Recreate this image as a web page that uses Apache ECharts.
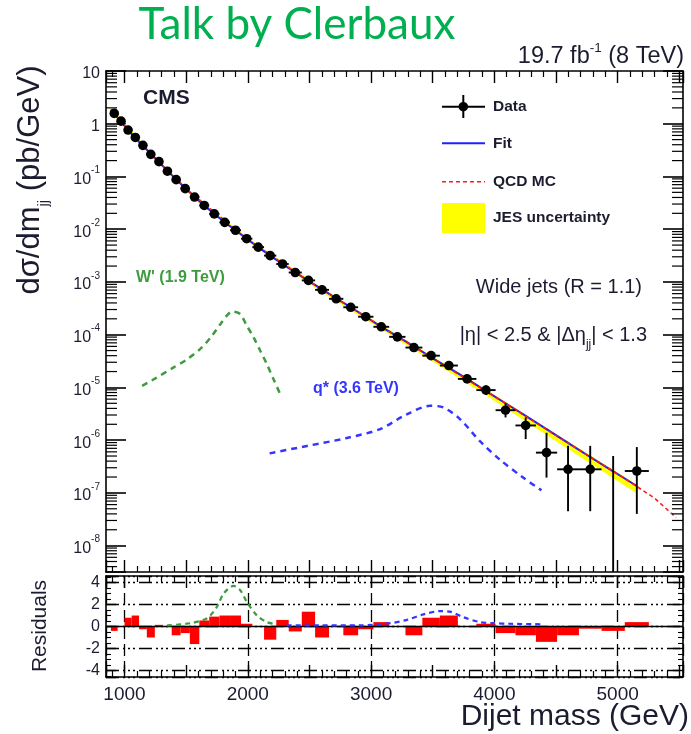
<!DOCTYPE html>
<html>
<head>
<meta charset="utf-8">
<script src="https://cdn.jsdelivr.net/npm/echarts@6/dist/echarts.min.js"></script>
<style>
  html, body { margin: 0; padding: 0; background: #ffffff; }
  #chart { width: 691px; height: 734px; }
</style>
</head>
<body>
<div id="chart"></div>
<script>
// Dijet mass bin edges (GeV)
const binEdges = [890, 944, 1000, 1058, 1118, 1181, 1246, 1313, 1383, 1455, 1530, 1607, 1687, 1770,
  1856, 1945, 2037, 2132, 2231, 2332, 2438, 2546, 2659, 2775, 2895, 3019, 3147, 3279, 3416, 3558,
  3704, 3854, 4010, 4171, 4337, 4509, 4686, 4869, 5058, 5253];

// Measured dσ/dm_jj per bin (pb/GeV) and its uncertainties
const xsec = [1.57, 1.12, 0.759, 0.550, 0.389, 0.263, 0.191, 0.126, 0.0871, 0.0589, 0.0407, 0.0282,
  0.0195, 0.0135, 0.00955, 0.00661, 0.00457, 0.00316, 0.00219, 0.00151, 0.00107, 7.08e-4, 4.79e-4,
  3.31e-4, 2.19e-4, 1.41e-4, 9.1e-5, 5.7e-5, 4.0e-5, 2.6e-5, 1.45e-5, 8.9e-6, 3.7e-6, 1.9e-6,
  5.8e-7, 2.8e-7, 2.8e-7, 0, 2.6e-7];
const xsecErrUp = [0, 0, 0, 0, 0, 0, 0, 0, 0, 0, 0, 0, 0, 0, 0, 0, 0, 0, 0, 0, 0, 0, 0, 0, 0, 0,
  5.9e-6, 4.7e-6, 3.8e-6, 3.1e-6, 2.3e-6, 2.0e-6, 1.2e-6, 0.8e-6, 8.0e-7, 5.0e-7, 5.0e-7, 5.0e-7, 4.8e-7];
const xsecErrDown = [0, 0, 0, 0, 0, 0, 0, 0, 0, 0, 0, 0, 0, 0, 0, 0, 0, 0, 0, 0, 0, 0, 0, 0, 0, 0,
  5.9e-6, 4.7e-6, 3.8e-6, 3.0e-6, 2.2e-6, 1.7e-6, 1.0e-6, 0.85e-6, 3.85e-7, 2.35e-7, 2.35e-7, 0, 2.2e-7];

// Fit function
const fitMass = [890, 917, 972, 1029, 1088, 1150, 1214, 1280, 1348, 1419, 1493, 1569, 1647, 1729,
  1813, 1901, 1991, 2085, 2182, 2282, 2385, 2492, 2603, 2717, 2835, 2957, 3083, 3213, 3347, 3487,
  3631, 3779, 3932, 4090, 4254, 4423, 4597, 4777, 4963, 5155];
const fitValues = [1.86, 1.55, 1.10, 0.759, 0.537, 0.380, 0.269, 0.186, 0.129, 0.0871, 0.0603, 0.0407,
  0.0282, 0.0195, 0.0135, 0.00955, 0.00661, 0.00457, 0.00316, 0.00219, 0.00151, 0.00105, 7.24e-4,
  4.90e-4, 3.31e-4, 2.19e-4, 1.41e-4, 9.33e-5, 6.03e-5, 3.72e-5, 2.34e-5, 1.45e-5, 8.51e-6, 5.01e-6,
  2.88e-6, 1.62e-6, 8.91e-7, 4.79e-7, 2.57e-7, 1.35e-7];

// QCD MC prediction
const qcdMass = [890, 1000, 1200, 1500, 2000, 2500, 3000, 3500, 4000, 4500, 5000, 5300, 5474];
const qcdValues = [1.86, 0.912, 0.288, 0.0582, 6.38e-3, 1.02e-3, 1.88e-4, 3.55e-5, 6.76e-6, 1.23e-6,
  2.29e-7, 7.94e-8, 3.39e-8];

// JES uncertainty band
const jesMass = [890, 1200, 1600, 2000, 2600, 3200, 3900, 4500, 5155];
const jesLow = [1.70, 0.269, 0.0327, 5.96e-3, 6.53e-4, 8.71e-5, 8.13e-6, 9.77e-7, 1.0e-7];
const jesHigh = [1.95, 0.302, 0.0367, 6.68e-3, 7.50e-4, 1.02e-4, 1.0e-5, 1.29e-6, 1.41e-7];

// Signal shapes
const wPrimeMass = [1143, 1250, 1399, 1500, 1615, 1700, 1777, 1830, 1872, 1939, 1990, 2047, 2100, 2155, 2210, 2269];
const wPrimeValues = [1.07e-5, 1.48e-5, 2.40e-5, 3.31e-5, 5.37e-5, 8.9e-5, 1.58e-4, 2.29e-4, 2.75e-4,
  2.45e-4, 1.51e-4, 8.91e-5, 5.01e-5, 2.75e-5, 1.41e-5, 6.92e-6];
const qStarMass = [2177, 2480, 2804, 3073, 3290, 3478, 3586, 3721, 3883, 4045, 4233, 4382];
const qStarValues = [5.62e-7, 7.76e-7, 1.10e-6, 1.62e-6, 3.09e-6, 4.47e-6, 4.17e-6, 2.51e-6, 9.55e-7,
  4.27e-7, 1.95e-7, 1.12e-7];

// Residuals (data - fit) / uncertainty per bin
const residuals = [-0.4, 0, 0.8, 1.0, -0.25, -1.0, 0.15, 0, -0.8, -0.6, -1.6, 0.55, 0.9, 1.0, 1.0,
  0.25, 0, -1.2, 0.6, -0.45, 1.35, -1.0, 0, -0.8, -0.25, 0.4, 0, -0.8, 0.8, 1.0, 0, 0.25, -0.6, -0.8,
  -1.4, -0.8, -0.2, -0.4, 0.4];
const wPrimeResMass = [1346, 1534, 1670, 1750, 1804, 1885, 1939, 1994, 2075, 2155, 2236];
const wPrimeResValues = [0.1, 0.3, 0.75, 1.8, 3.0, 3.7, 3.3, 2.2, 1.0, 0.4, 0.2];
const qStarResMass = [2316, 2600, 2900, 3154, 3289, 3424, 3559, 3640, 3748, 3883, 3991, 4126, 4396];
const qStarResValues = [0.1, 0.1, 0.1, 0.3, 0.6, 1.1, 1.4, 1.35, 0.85, 0.4, 0.3, 0.25, 0.2];

// Axis ranges
const massRange = [850, 5530];
const xsecRange = [Math.pow(10, -8.5), 10];
const residualRange = [-4.6, 4.6];

const FONT = '"Liberation Sans", Arial, Helvetica, sans-serif';
const INK = '#1c1c30';

const chart = echarts.init(document.getElementById('chart'));

// minor ticks of the logarithmic axis (2..9 in each decade)
const logMinorTicks = [];
for (let e = -9; e <= 0; e++) {
  for (let k = 2; k <= 9; k++) logMinorTicks.push([massRange[0], k * Math.pow(10, e)]);
}

function decadeLabel(v) {
  const e = Math.log10(v);
  const r = Math.round(e);
  if (Math.abs(e - r) > 1e-6) return '';
  if (r === 1) return '{b|10}';
  if (r === 0) return '{b|1}';
  return '{b|10}{s|' + r + '}';
}

function massAxis(gridIndex, position, showLabels) {
  return {
    type: 'value', gridIndex: gridIndex, position: position,
    min: massRange[0], max: massRange[1], splitNumber: 9,
    axisLine: { show: true, onZero: false, lineStyle: { color: '#000', width: 1.6 } },
    axisTick: { show: true, inside: true, length: 12, lineStyle: { color: '#000', width: 1.4 } },
    minorTick: { show: true, splitNumber: 5, length: 6, lineStyle: { color: '#000', width: 1.2 } },
    axisLabel: {
      show: showLabels, margin: 8, fontFamily: FONT, fontSize: 19, color: INK,
      formatter: function (v) { return v % 1000 === 0 ? String(v) : ''; }
    },
    splitLine: { show: false }
  };
}

function xsecAxis(position, showLabels) {
  return {
    type: 'log', logBase: 10, gridIndex: 0, position: position,
    min: xsecRange[0], max: xsecRange[1],
    axisLine: { show: true, onZero: false, lineStyle: { color: '#000', width: 1.6 } },
    axisTick: { show: true, inside: true, length: 20, lineStyle: { color: '#000', width: 1.6 } },
    axisLabel: {
      show: showLabels, margin: 6, formatter: decadeLabel,
      rich: {
        b: { fontFamily: FONT, fontSize: 16, color: INK, lineHeight: 22, verticalAlign: 'bottom' },
        s: { fontFamily: FONT, fontSize: 10, color: INK, lineHeight: 14, verticalAlign: 'top' }
      }
    },
    splitLine: { show: false }
  };
}

function residualAxis(position, showLabels) {
  return {
    type: 'value', gridIndex: 1, position: position,
    min: residualRange[0], max: residualRange[1], splitNumber: 5,
    axisLine: { show: true, onZero: false, lineStyle: { color: '#000', width: 1.6 } },
    axisTick: { show: true, inside: true, length: 10, lineStyle: { color: '#000', width: 1.4 } },
    minorTick: { show: true, splitNumber: 4, length: 5, lineStyle: { color: '#000', width: 1.1 } },
    axisLabel: {
      show: showLabels, margin: 6, fontFamily: FONT, fontSize: 16, color: INK,
      formatter: function (v) { return Number.isInteger(v) ? String(v) : ''; }
    },
    splitLine: {
      show: showLabels,
      lineStyle: { color: '#000', width: 1.3, type: [13, 4, 2, 3, 2, 3, 2, 4] }
    }
  };
}

const splitAxis = {
  type: 'value', gridIndex: 1, position: 'bottom',
  min: massRange[0], max: massRange[1], splitNumber: 5,
  axisLine: { show: false }, axisTick: { show: false }, axisLabel: { show: false },
  splitLine: { show: true, lineStyle: { color: '#000', width: 1.3, type: [12, 5] } }
};

const binData = xsec.map(function (v, i) {
  const lo = binEdges[i], hi = binEdges[i + 1];
  return [(lo + hi) / 2, v, lo, hi, xsecErrDown[i], xsecErrUp[i]];
});
const residualData = residuals.map(function (r, i) { return [binEdges[i], r, binEdges[i + 1]]; });
const pairs = function (xs, ys) { return xs.map(function (x, i) { return [x, ys[i]]; }); };

const option = {
  animation: false,
  backgroundColor: '#ffffff',
  grid: [
    { left: 106, top: 71, width: 577, height: 501 },
    { left: 106, top: 576, width: 577, height: 101 }
  ],
  xAxis: [
    massAxis(0, 'bottom', false),
    massAxis(0, 'top', false),
    massAxis(1, 'bottom', true),
    massAxis(1, 'top', false),
    splitAxis
  ],
  yAxis: [
    xsecAxis('left', true),
    xsecAxis('right', false),
    residualAxis('left', true),
    residualAxis('right', false)
  ],
  series: [
    { // minor ticks of the log axes
      type: 'custom', xAxisIndex: 0, yAxisIndex: 0, silent: true, data: logMinorTicks, z: 5,
      renderItem: function (params, api) {
        const cs = params.coordSys;
        const p = api.coord([api.value(0), api.value(1)]);
        if (!(p[1] >= cs.y - 0.5 && p[1] <= cs.y + cs.height + 0.5)) return;
        const st = { stroke: '#000', lineWidth: 1.2 };
        return { type: 'group', children: [
          { type: 'line', shape: { x1: cs.x, y1: p[1], x2: cs.x + 11, y2: p[1] }, style: st },
          { type: 'line', shape: { x1: cs.x + cs.width, y1: p[1], x2: cs.x + cs.width - 11, y2: p[1] }, style: st }
        ] };
      }
    },
    { // JES uncertainty band
      type: 'custom', xAxisIndex: 0, yAxisIndex: 0, silent: true, data: [[jesMass[0], jesHigh[0]]], z: 1,
      renderItem: function (params, api) {
        const pts = [];
        for (let i = 0; i < jesMass.length; i++) pts.push(api.coord([jesMass[i], jesHigh[i]]));
        for (let i = jesMass.length - 1; i >= 0; i--) pts.push(api.coord([jesMass[i], jesLow[i]]));
        return { type: 'polygon', shape: { points: pts }, style: { fill: '#ffff00', stroke: '#ffff00', lineWidth: 1 } };
      }
    },
    {
      name: 'Fit', type: 'line', xAxisIndex: 0, yAxisIndex: 0, data: pairs(fitMass, fitValues),
      showSymbol: false, smooth: false, z: 2,
      lineStyle: { color: '#1f1fff', width: 2 }
    },
    {
      name: 'QCD MC', type: 'line', xAxisIndex: 0, yAxisIndex: 0, data: pairs(qcdMass, qcdValues),
      showSymbol: false, z: 3,
      lineStyle: { color: '#ff1a1a', width: 1.6, type: [4, 3] }
    },
    {
      name: "W' (1.9 TeV)", type: 'line', xAxisIndex: 0, yAxisIndex: 0, data: pairs(wPrimeMass, wPrimeValues),
      showSymbol: false, smooth: 0.3, z: 3,
      lineStyle: { color: '#3d9c3d', width: 2.5, type: [6, 5] }
    },
    {
      name: 'q* (3.6 TeV)', type: 'line', xAxisIndex: 0, yAxisIndex: 0, data: pairs(qStarMass, qStarValues),
      showSymbol: false, smooth: 0.3, z: 3,
      lineStyle: { color: '#3535ff', width: 2.5, type: [6, 5] }
    },
    { // data points with error bars
      type: 'custom', xAxisIndex: 0, yAxisIndex: 0, data: binData, z: 6,
      renderItem: function (params, api) {
        const cs = params.coordSys;
        const m = api.value(0), v = api.value(1), lo = api.value(2), hi = api.value(3);
        const ed = api.value(4), eu = api.value(5);
        const st = { stroke: '#000', lineWidth: 1.9 };
        const children = [];
        if (eu > 0 || ed > 0) {
          const yTop = api.coord([m, v + eu])[1];
          const yBot = (v - ed > 0) ? api.coord([m, v - ed])[1] : cs.y + cs.height;
          const x = api.coord([m, v + eu])[0];
          children.push({ type: 'line', shape: { x1: x, y1: yTop, x2: x, y2: yBot }, style: st });
        }
        if (v > 0) {
          const p = api.coord([m, v]);
          const pl = api.coord([lo, v]), ph = api.coord([hi, v]);
          children.push({ type: 'line', shape: { x1: pl[0], y1: p[1], x2: ph[0], y2: p[1] }, style: st });
          children.push({ type: 'circle', shape: { cx: p[0], cy: p[1], r: 4.8 }, style: { fill: '#000' } });
        }
        return { type: 'group', children: children };
      }
    },
    { // residual histogram
      type: 'custom', xAxisIndex: 2, yAxisIndex: 2, data: residualData, z: 2,
      renderItem: function (params, api) {
        const a = api.coord([api.value(0), 0]);
        const b = api.coord([api.value(2), api.value(1)]);
        return { type: 'rect', shape: { x: a[0], y: Math.min(a[1], b[1]), width: b[0] - a[0], height: Math.abs(b[1] - a[1]) },
          style: { fill: '#ff0000' } };
      }
    },
    {
      type: 'line', xAxisIndex: 2, yAxisIndex: 2, data: [[massRange[0], 0], [massRange[1], 0]],
      showSymbol: false, z: 4, lineStyle: { color: '#000', width: 1.6 }
    },
    {
      type: 'line', xAxisIndex: 2, yAxisIndex: 2, data: pairs(wPrimeResMass, wPrimeResValues),
      showSymbol: false, smooth: 0.3, z: 5, lineStyle: { color: '#3d9c3d', width: 2.2, type: [5, 4] }
    },
    {
      type: 'line', xAxisIndex: 2, yAxisIndex: 2, data: pairs(qStarResMass, qStarResValues),
      showSymbol: false, smooth: 0.3, z: 5, lineStyle: { color: '#3535ff', width: 2.2, type: [5, 4] }
    }
  ],
  graphic: [
    { type: 'text', x: 297, y: 25, style: { text: 'Talk by Clerbaux', font: '44px Lato, "Open Sans", sans-serif', fill: '#00b050',
      textAlign: 'center', align: 'center', textVerticalAlign: 'middle', verticalAlign: 'middle' } },
    { type: 'text', x: 684, y: 55, style: {
      text: '{a|19.7 fb}{s|-1}{a| (8 TeV)}', textAlign: 'right', align: 'right', textVerticalAlign: 'middle', verticalAlign: 'middle',
      rich: {
        a: { fontFamily: FONT, fontSize: 23.5, fill: INK, color: INK, lineHeight: 28, verticalAlign: 'bottom' },
        s: { fontFamily: FONT, fontSize: 13.5, fill: INK, color: INK, lineHeight: 17, verticalAlign: 'top' }
      } } },
    { type: 'text', x: 143, y: 98, style: { text: 'CMS', font: 'bold 21px ' + FONT, fill: INK,
      textVerticalAlign: 'middle', verticalAlign: 'middle' } },
    // legend
    { type: 'line', shape: { x1: 442, y1: 106.7, x2: 485, y2: 106.7 }, style: { stroke: '#000', lineWidth: 2 } },
    { type: 'line', shape: { x1: 463.3, y1: 95, x2: 463.3, y2: 118 }, style: { stroke: '#000', lineWidth: 2 } },
    { type: 'circle', shape: { cx: 463.3, cy: 106.7, r: 4.8 }, style: { fill: '#000' } },
    { type: 'line', shape: { x1: 442, y1: 143.3, x2: 485, y2: 143.3 }, style: { stroke: '#1f1fff', lineWidth: 2 } },
    { type: 'line', shape: { x1: 442, y1: 181.7, x2: 485, y2: 181.7 }, style: { stroke: '#ff1a1a', lineWidth: 1.6, lineDash: [4, 3] } },
    { type: 'rect', shape: { x: 442, y: 203, width: 43, height: 30 }, style: { fill: '#ffff00' } },
    { type: 'text', x: 493, y: 106.7, style: { text: 'Data', font: 'bold 15.5px ' + FONT, fill: INK, textVerticalAlign: 'middle', verticalAlign: 'middle' } },
    { type: 'text', x: 493, y: 143.3, style: { text: 'Fit', font: 'bold 15.5px ' + FONT, fill: INK, textVerticalAlign: 'middle', verticalAlign: 'middle' } },
    { type: 'text', x: 493, y: 181.7, style: { text: 'QCD MC', font: 'bold 15.5px ' + FONT, fill: INK, textVerticalAlign: 'middle', verticalAlign: 'middle' } },
    { type: 'text', x: 493, y: 217.5, style: { text: 'JES uncertainty', font: 'bold 15.5px ' + FONT, fill: INK, textVerticalAlign: 'middle', verticalAlign: 'middle' } },
    // selection labels
    { type: 'text', x: 642, y: 287, style: { text: 'Wide jets (R = 1.1)', font: '20px ' + FONT, fill: INK,
      textAlign: 'right', align: 'right', textVerticalAlign: 'middle', verticalAlign: 'middle' } },
    { type: 'text', x: 647, y: 338, style: {
      text: '{a||η| < 2.5 & |Δη}{j|jj}{a|| < 1.3}', textAlign: 'right', align: 'right', textVerticalAlign: 'middle', verticalAlign: 'middle',
      rich: {
        a: { fontFamily: FONT, fontSize: 20, fill: INK, color: INK, lineHeight: 26, verticalAlign: 'top' },
        j: { fontFamily: FONT, fontSize: 12, fill: INK, color: INK, lineHeight: 12, verticalAlign: 'bottom' }
      } } },
    // signal labels
    { type: 'text', x: 136, y: 278, style: { text: "W' (1.9 TeV)", font: 'bold 16px ' + FONT, fill: '#3d9c3d',
      textVerticalAlign: 'middle', verticalAlign: 'middle' } },
    { type: 'text', x: 313, y: 389, style: { text: 'q* (3.6 TeV)', font: 'bold 16px ' + FONT, fill: '#3535ff',
      textVerticalAlign: 'middle', verticalAlign: 'middle' } },
    // axis titles
    { type: 'text', x: 33, y: 180, rotation: Math.PI / 2, style: {
      text: '{a|dσ/dm}{j|jj}{a| (pb/GeV)}', textAlign: 'center', align: 'center', textVerticalAlign: 'middle', verticalAlign: 'middle',
      rich: {
        a: { fontFamily: FONT, fontSize: 31, fill: INK, color: INK, lineHeight: 36, verticalAlign: 'top' },
        j: { fontFamily: FONT, fontSize: 15, fill: INK, color: INK, lineHeight: 15, verticalAlign: 'bottom' }
      } } },
    { type: 'text', x: 40, y: 626, rotation: Math.PI / 2, style: { text: 'Residuals', font: '21px ' + FONT, fill: INK,
      textAlign: 'center', align: 'center', textVerticalAlign: 'middle', verticalAlign: 'middle' } },
    { type: 'text', x: 689, y: 717, style: { text: 'Dijet mass (GeV)', font: '30px ' + FONT, fill: INK,
      textAlign: 'right', align: 'right', textVerticalAlign: 'middle', verticalAlign: 'middle' } }
  ]
};

chart.setOption(option);
</script>
</body>
</html>
